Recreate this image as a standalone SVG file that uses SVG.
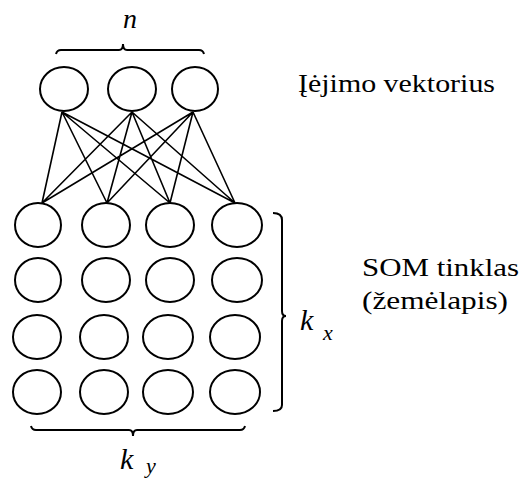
<svg xmlns="http://www.w3.org/2000/svg" width="520" height="481" viewBox="0 0 520 481">
<style>
.n{fill:none;stroke:#000;stroke-width:2}
.c{stroke:#000;stroke-width:1.6;fill:none}
.b{fill:none;stroke:#000;stroke-width:2}
text{fill:#000}
</style>
<rect width="520" height="481" fill="#fff"/>
<g id="connectors">
<path class="c" d="M62,112L42,203M62,112L107,203M62,112L170,203M62,112L235,203M132,112L42,203M132,112L107,203M132,112L170,203M132,112L235,203M193,112L42,203M193,112L107,203M193,112L170,203M193,112L235,203"/>
</g>
<g id="input1"><ellipse class="n" cx="64" cy="89" rx="24" ry="22"/></g>
<g id="input2"><ellipse class="n" cx="132" cy="89" rx="24" ry="22"/></g>
<g id="input3"><ellipse class="n" cx="195" cy="89" rx="23" ry="22"/></g>
<g id="som">
<g id="r1c1"><ellipse class="n" cx="38" cy="225" rx="23" ry="22"/></g>
<g id="r1c2"><ellipse class="n" cx="106" cy="225" rx="24" ry="22"/></g>
<g id="r1c3"><ellipse class="n" cx="170" cy="225" rx="24" ry="22"/></g>
<g id="r1c4"><ellipse class="n" cx="237" cy="225" rx="25" ry="22"/></g>
<g id="r2c1"><ellipse class="n" cx="38" cy="280" rx="23" ry="22"/></g>
<g id="r2c2"><ellipse class="n" cx="106" cy="280" rx="24" ry="22"/></g>
<g id="r2c3"><ellipse class="n" cx="170" cy="280" rx="24" ry="22"/></g>
<g id="r2c4"><ellipse class="n" cx="237" cy="280" rx="25" ry="22"/></g>
<g id="r3c1"><ellipse class="n" cx="37" cy="337" rx="24" ry="22"/></g>
<g id="r3c2"><ellipse class="n" cx="104" cy="337" rx="24" ry="22"/></g>
<g id="r3c3"><ellipse class="n" cx="168" cy="337" rx="25" ry="22"/></g>
<g id="r3c4"><ellipse class="n" cx="235" cy="337" rx="25" ry="22"/></g>
<g id="r4c1"><ellipse class="n" cx="37" cy="392" rx="24" ry="22"/></g>
<g id="r4c2"><ellipse class="n" cx="104" cy="392" rx="24" ry="22"/></g>
<g id="r4c3"><ellipse class="n" cx="168" cy="392" rx="25" ry="22"/></g>
<g id="r4c4"><ellipse class="n" cx="235" cy="392" rx="25" ry="22"/></g>
</g>
<g id="braces">
<path class="b" d="M56,54Q57,50 61,50L119,50Q123,50 123,44Q123,50 127,50L199,50Q203,50 204,54"/>
<path class="b" d="M31,426Q32,430 36,430L129,430Q133,430 133,436Q133,430 137,430L240,430Q244,430 245,426"/>
<path class="b" d="M273,213Q282,213 282,220L282,311Q282,316 286,316Q282,316 282,321L282,405Q282,411 273,411"/>
</g>
<g id="labels" font-family="'Liberation Serif', 'Times New Roman', 'DejaVu Serif', serif">
<g font-style="italic">
<text x="130" y="28" font-size="28" text-anchor="middle">n</text>
<text x="120" y="469" font-size="30">k</text>
<text x="146" y="473" font-size="22">y</text>
<text x="300" y="330" font-size="30">k</text>
<text x="323" y="340" font-size="22">x</text>
</g>
<g font-size="26">
<text x="298" y="92" textLength="197" lengthAdjust="spacingAndGlyphs">Įėjimo vektorius</text>
<text x="362" y="276" textLength="157" lengthAdjust="spacingAndGlyphs">SOM tinklas</text>
<text x="362" y="309" textLength="146" lengthAdjust="spacingAndGlyphs">(žemėlapis)</text>
</g>
</g>
</svg>
